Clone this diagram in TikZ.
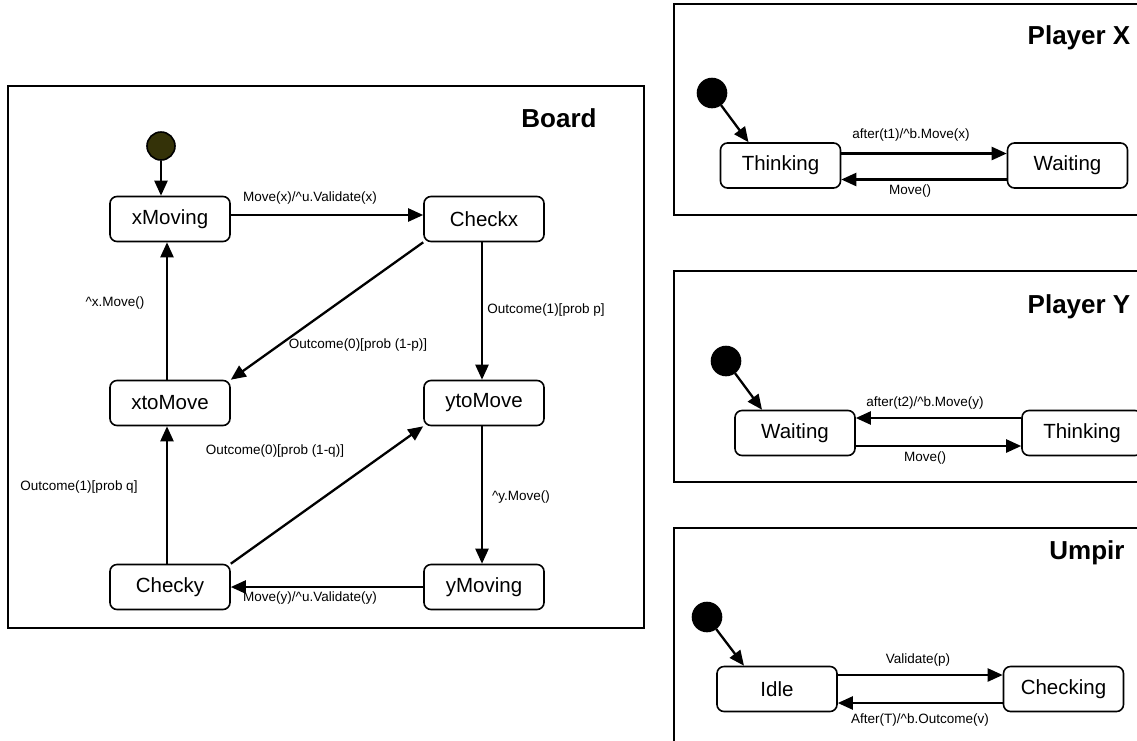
\documentclass[tikz,border=0pt]{standalone}
\usepackage{fontspec}
\setmainfont{Liberation Sans}
\usepackage{tikz}
\usetikzlibrary{arrows.meta,positioning,calc}
\definecolor{initolive}{RGB}{52,50,8}

\begin{document}
\begin{tikzpicture}[x=1pt, y=-1pt, line width=1.6pt,
  state node/.style={rectangle,draw,rounded corners=7pt,minimum width=120pt,minimum height=45pt,inner sep=0pt,font=\fontsize{20.5}{24}\selectfont},
  init node/.style={circle,draw,fill=black,minimum size=29pt,inner sep=0pt},
  lbl/.style={inner sep=0pt,font=\fontsize{13.5}{15}\selectfont},
  title/.style={inner sep=0pt,font=\fontsize{26}{30}\selectfont\bfseries},
  trans/.style={-{Triangle[length=15pt,width=13pt]},line width=2.3pt}]%
\clip (0,0) rectangle (1137,740);
% frames
\draw (8,86) rectangle (644,628);
\draw (674,4) rectangle (1160,215);
\draw (674,271) rectangle (1160,482);
\draw (674,528) rectangle (1160,760);
\begin{scope}
\node[title] (tb) at (559,118) {Board};
\node[title] (tx) at (1079,38) {Player X};
\node[title] (ty) at (1079,307) {Player Y};
\node[title] (tu) at (1087,553) {Umpir};
\end{scope}
% board
\begin{scope}
\node[init node,fill=initolive,minimum size=28pt] (bi) at (161,146) {};
\node[state node] (b1) at (170,219) {xMoving};
\node[state node] (b2) at (484,219) {Checkx};
\node[state node] (b3) at (170,403) {xtoMove};
\node[state node] (b4) at (484,403) {ytoMove};
\node[state node] (b5) at (170,587) {Checky};
\node[state node] (b6) at (484,587) {yMoving};
\end{scope}
\begin{scope}[trans]
\draw  (bi) -- (bi |- b1.north);
\draw  ([yshift=4pt]b1.east) -- ([yshift=4pt]b2.west);
\draw  ([xshift=-2pt]b2.south) -- ([xshift=-2pt]b4.north);
\draw  (b2.south west) -- (b3.north east);
\draw  ([xshift=-3pt]b3.north) -- ([xshift=-3pt]b1.south);
\draw  ([xshift=-2pt]b4.south) -- ([xshift=-2pt]b6.north);
\draw  (b6.west) -- (b5.east);
\draw  (b5.north east) -- (b4.south west);
\draw  ([xshift=-3pt]b5.north) -- ([xshift=-3pt]b3.south);
\end{scope}
\begin{scope}[every node/.style={lbl}]
\node (lb1) at (310,198) {Move(x)/\textasciicircum u.Validate(x)};
\node (lb2) at (546,310) {Outcome(1)[prob p]};
\node (lb3) at (358,345) {Outcome(0)[prob (1-p)]};
\node (lb4) at (115,303) {\textasciicircum x.Move()};
\node (lb5) at (275,451) {Outcome(0)[prob (1-q)]};
\node (lb6) at (79,487) {Outcome(1)[prob q]};
\node (lb7) at (521,497) {\textasciicircum y.Move()};
\node (lb8) at (310,598) {Move(y)/\textasciicircum u.Validate(y)};
\end{scope}
% player x
\node[init node] (xi) at (712,93) {};
\node[state node] (x1) at (780.5,165.5) {Thinking};
\node[state node] (x2) at (1067.5,165.5) {Waiting};
\begin{scope}[trans]
\draw  (xi) -- ([xshift=-32pt]x1.north);
\draw  ([yshift=12pt]x1.east) -- ([yshift=12pt]x2.west);
\draw  ([yshift=-14pt]x2.west) -- ([yshift=-14pt]x1.east);
\end{scope}
\node[lbl] (lx1) at (911,135) {after(t1)/\textasciicircum b.Move(x)};
\node[lbl] (lx2) at (910,191) {Move()};
% player y
\node[init node] (yi) at (726,361) {};
\node[state node] (y1) at (795,433) {Waiting};
\node[state node] (y2) at (1082,433) {Thinking};
\begin{scope}[trans]
\draw  (yi) -- ([xshift=-33pt]y1.north);
\draw  ([yshift=15pt]y2.west) -- ([yshift=15pt]y1.east);
\draw  ([yshift=-13pt]y1.east) -- ([yshift=-13pt]y2.west);
\end{scope}
\node[lbl] (ly1) at (925,403) {after(t2)/\textasciicircum b.Move(y)};
\node[lbl] (ly2) at (925,458) {Move()};
% umpir
\node[init node] (ui) at (707,617) {};
\node[state node] (u1) at (777,689) {Idle};
\node[state node] (u2) at (1063.5,689) {Checking};
\begin{scope}[trans]
\draw  (ui) -- ([xshift=-33pt]u1.north);
\draw  ([yshift=14pt]u1.east) -- ([yshift=14pt]u2.west);
\draw  ([yshift=-14pt]u2.west) -- ([yshift=-14pt]u1.east);
\end{scope}
\node[lbl] (lu1) at (918,660) {Validate(p)};
\node[lbl] (lu2) at (920,720) {After(T)/\textasciicircum b.Outcome(v)};
\end{tikzpicture}
\end{document}
